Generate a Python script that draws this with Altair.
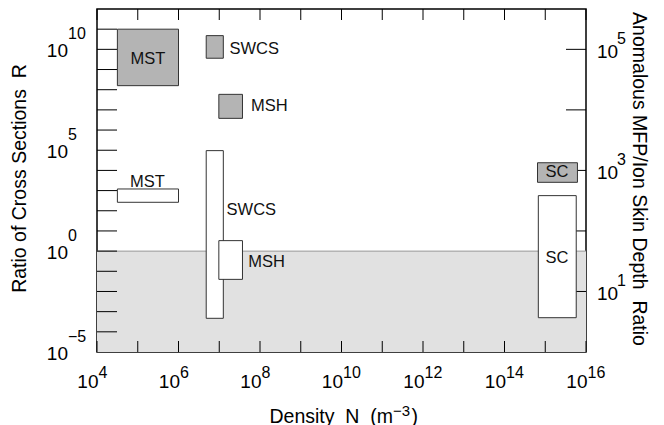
import altair as alt
import pandas as pd

FONT = "Liberation Sans"

# ---- data (log10 units) ----
box_name = ["MST", "SWCS", "MSH", "MST", "SWCS", "MSH", "SC", "SC"]
box_kind = ["filled", "filled", "filled", "open", "open", "open", "filled", "open"]
box_x1 = [4.50, 6.68, 6.99, 4.50, 6.68, 6.99, 14.81, 14.83]
box_x2 = [6.00, 7.10, 7.57, 6.00, 7.10, 7.57, 15.79, 15.76]
box_y1 = [8.20, 9.56, 6.58, 2.42, -3.33, -1.40, 3.41, -3.30]
box_y2 = [11.00, 10.68, 7.77, 3.08, 4.98, 0.52, 4.38, 2.75]

label_text = ["MST", "SWCS", "MSH", "MST", "SWCS", "MSH", "SC", "SC"]
label_x = [5.25, 7.25, 7.78, 5.24, 7.18, 7.71, 15.29, 15.29]
label_y = [9.54, 10.02, 7.19, 3.43, 2.04, -0.54, 3.90, -0.32]
label_align = ["center", "left", "left", "center", "left", "left", "center", "center"]

x_tick_exps = list(range(4, 17))
left_tick_exps = list(range(-4, 12))
right_tick_exps = [1, 2, 3, 4, 5]          # right axis decades
x_label_exps = [4, 6, 8, 10, 12, 14, 16]
left_label_exps = [-5, 0, 5, 10]
right_label_exps = [1, 3, 5]

XDOM = [4, 16]
YDOM = [-5, 12]
W, H = 489, 343


# right-axis decades mapped onto the left-axis log scale
def right_to_left(r):
    return 3 * r - 5


def sup(e):
    return str(e).replace("-", "\u2212")


xs = alt.Scale(domain=XDOM, nice=False, zero=False)
ys = alt.Scale(domain=YDOM, nice=False, zero=False)


def X(field="x"):
    return alt.X(f"{field}:Q", scale=xs, axis=None)


def Y(field="y"):
    return alt.Y(f"{field}:Q", scale=ys, axis=None)


boxes = pd.DataFrame({"name": box_name, "kind": box_kind, "x": box_x1,
                      "x2": box_x2, "y": box_y1, "y2": box_y2})
labels = pd.DataFrame({"text": label_text, "x": label_x, "y": label_y,
                       "al": label_align})

shade_df = pd.DataFrame({"x": [XDOM[0]], "x2": [XDOM[1]], "y": [YDOM[0]], "y2": [0]})
shade = alt.Chart(shade_df).mark_rect(color="#e1e1e1").encode(
    x=X(), x2="x2:Q", y=Y(), y2="y2:Q")
shade_line = alt.Chart(shade_df).mark_rule(color="#999999", strokeWidth=1).encode(
    x=X(), x2="x2:Q", y=Y("y2"))

xt = pd.DataFrame({"x": x_tick_exps})
top_ticks = alt.Chart(xt).mark_rule(color="black", strokeWidth=1).encode(
    x=X(), y=alt.value(0), y2=alt.value(11))
bot_ticks = alt.Chart(xt).mark_rule(color="black", strokeWidth=1).encode(
    x=X(), y=alt.value(H), y2=alt.value(H - 11))
lt = pd.DataFrame({"y": left_tick_exps})
left_ticks = alt.Chart(lt).mark_rule(color="black", strokeWidth=1).encode(
    y=Y(), x=alt.value(0), x2=alt.value(20))
rt = pd.DataFrame({"y": [right_to_left(r) for r in right_tick_exps]})
right_ticks = alt.Chart(rt).mark_rule(color="black", strokeWidth=1).encode(
    y=Y(), x=alt.value(W), x2=alt.value(W - 20))

filled = alt.Chart(boxes[boxes["kind"] == "filled"]).mark_rect(
    fill="#b4b4b4", stroke="#333333", strokeWidth=1).encode(
    x=X(), x2="x2:Q", y=Y(), y2="y2:Q")
openb = alt.Chart(boxes[boxes["kind"] == "open"]).mark_rect(
    fill="white", stroke="#333333", strokeWidth=1).encode(
    x=X(), x2="x2:Q", y=Y(), y2="y2:Q")

lab_c = alt.Chart(labels[labels["al"] == "center"]).mark_text(
    font=FONT, fontSize=16.5, align="center", baseline="middle", color="#111").encode(
    x=X(), y=Y(), text="text:N")
lab_l = alt.Chart(labels[labels["al"] == "left"]).mark_text(
    font=FONT, fontSize=16.5, align="left", baseline="middle", color="#111").encode(
    x=X(), y=Y(), text="text:N")

# x tick labels: 10^n
xl = pd.DataFrame({"x": x_label_exps, "e": [sup(e) for e in x_label_exps]})
xl_base = alt.Chart(xl).mark_text(font=FONT, fontSize=19, align="right",
                                  baseline="alphabetic", dx=1.5, color="black").encode(
    x=X(), y=alt.value(H + 36), text=alt.value("10"))
xl_exp = alt.Chart(xl).mark_text(font=FONT, fontSize=16, align="left",
                                 baseline="alphabetic", dx=1.5, color="black").encode(
    x=X(), y=alt.value(H + 26), text="e:N")

ll = pd.DataFrame({"y": left_label_exps, "e": [sup(e) for e in left_label_exps]})
ll_base = alt.Chart(ll).mark_text(font=FONT, fontSize=19, align="right",
                                  baseline="alphabetic", dy=8, color="black").encode(
    y=Y(), x=alt.value(-29), text=alt.value("10"))
ll_exp = alt.Chart(ll).mark_text(font=FONT, fontSize=16, align="left",
                                 baseline="alphabetic", dy=-10, color="black").encode(
    y=Y(), x=alt.value(-29), text="e:N")

rl = pd.DataFrame({"y": [right_to_left(r) for r in right_label_exps],
                   "e": [sup(e) for e in right_label_exps]})
rl_base = alt.Chart(rl).mark_text(font=FONT, fontSize=19, align="left",
                                  baseline="alphabetic", dy=9, color="black").encode(
    y=Y(), x=alt.value(W + 11), text=alt.value("10"))
rl_exp = alt.Chart(rl).mark_text(font=FONT, fontSize=16, align="left",
                                 baseline="alphabetic", dy=-5, color="black").encode(
    y=Y(), x=alt.value(W + 31), text="e:N")

# axis titles
one = pd.DataFrame({"a": [0]})
left_title = alt.Chart(one).mark_text(font=FONT, fontSize=19.5, angle=270,
                                      align="center", baseline="middle", color="black").encode(
    x=alt.value(-77), y=alt.value(169.5),
    text=alt.value("Ratio of Cross Sections\u00a0\u00a0R"))
right_title = alt.Chart(one).mark_text(font=FONT, fontSize=19.5, angle=90,
                                       align="center", baseline="middle", color="black").encode(
    x=alt.value(541.5), y=alt.value(170),
    text=alt.value("Anomalous MFP/Ion Skin Depth\u00a0\u00a0Ratio"))
bt_main = alt.Chart(one).mark_text(font=FONT, fontSize=19.5, align="right",
                                   baseline="alphabetic", color="black").encode(
    x=alt.value(296), y=alt.value(413.5),
    text=alt.value("Density\u00a0\u00a0N\u00a0\u00a0(m"))
bt_exp = alt.Chart(one).mark_text(font=FONT, fontSize=15, align="left",
                                  baseline="alphabetic", color="black").encode(
    x=alt.value(296), y=alt.value(407), text=alt.value(sup(-3)))
bt_close = alt.Chart(one).mark_text(font=FONT, fontSize=19.5, align="left",
                                    baseline="alphabetic", color="black").encode(
    x=alt.value(314.5), y=alt.value(413.5), text=alt.value(")"))

chart = alt.layer(
    shade, shade_line, top_ticks, bot_ticks, left_ticks, right_ticks,
    openb, filled, lab_c, lab_l,
    xl_base, xl_exp, ll_base, ll_exp, rl_base, rl_exp,
    left_title, right_title, bt_main, bt_exp, bt_close,
).properties(
    width=W, height=H,
    autosize=alt.AutoSizeParams(type="none"),
    padding={"left": 89, "top": 1, "right": 70, "bottom": 73},
).configure_view(stroke="black", strokeWidth=1.5)

chart.save("out.html", embed_options={"renderer": "svg", "actions": False})
